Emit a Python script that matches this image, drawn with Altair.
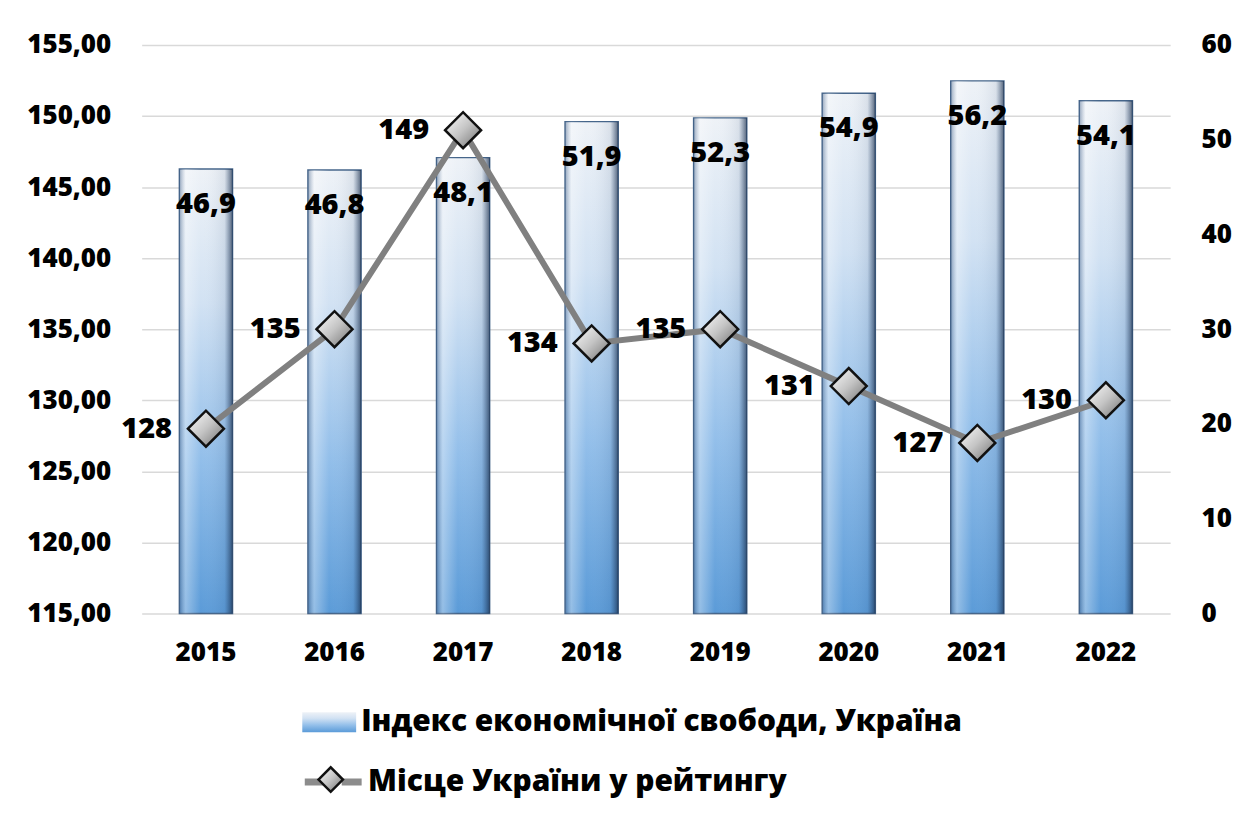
import altair as alt
import pandas as pd

years = ["2015", "2016", "2017", "2018", "2019", "2020", "2021", "2022"]
index_values = [46.9, 46.8, 48.1, 51.9, 52.3, 54.9, 56.2, 54.1]
rank_values = [128, 135, 149, 134, 135, 131, 127, 130]
left_ticks = [115, 120, 125, 130, 135, 140, 145, 150, 155]
right_ticks = [0, 10, 20, 30, 40, 50, 60]
bar_name = "Індекс економічної свободи, Україна"
line_name = "Місце України у рейтингу"

df = pd.DataFrame({
    "year": years,
    "idx": index_values,
    "rank": rank_values,
    "s_bar": bar_name,
    "s_line": line_name,
})

FONT = "'Open Sans', 'Noto Sans', 'DejaVu Sans', sans-serif"
FW = 800
AXFS = 26
LBFS = 29
LGFS = 30

bar_grad = alt.LinearGradient(
    gradient="linear", x1=0, x2=0, y1=0, y2=1,
    stops=[
        alt.GradientStop(color="#eef2f7", offset=0),
        alt.GradientStop(color="#d2e2f3", offset=0.3),
        alt.GradientStop(color="#93bfea", offset=0.65),
        alt.GradientStop(color="#5b9bd8", offset=1),
    ],
)
bar_shade = alt.LinearGradient(
    gradient="linear", x1=0, x2=1, y1=0, y2=0,
    stops=[
        alt.GradientStop(color="rgba(60,90,130,0.5)", offset=0),
        alt.GradientStop(color="rgba(255,255,255,0.35)", offset=0.12),
        alt.GradientStop(color="rgba(255,255,255,0)", offset=0.4),
        alt.GradientStop(color="rgba(40,70,110,0.1)", offset=0.85),
        alt.GradientStop(color="rgba(20,40,70,0.7)", offset=1),
    ],
)
pt_grad = alt.LinearGradient(
    gradient="linear", x1=0, x2=1, y1=0, y2=1,
    stops=[
        alt.GradientStop(color="#ffffff", offset=0),
        alt.GradientStop(color="#c4c4c4", offset=0.5),
        alt.GradientStop(color="#6e6e6e", offset=1),
    ],
)

x_enc = alt.X(
    "year:N",
    scale=alt.Scale(paddingInner=0.586, paddingOuter=0.293),
    axis=alt.Axis(title=None, labelAngle=0, domain=False, ticks=False,
                  labelPadding=26, labelFontSize=26, labelFontWeight=FW,
                  labelColor="black", labelFont=FONT, grid=False),
)

y_idx = alt.Y(
    "idx:Q",
    scale=alt.Scale(domain=[0, 60], nice=False, zero=True),
    axis=alt.Axis(title=None, orient="right", values=right_ticks, grid=False,
                  domain=False, ticks=False, labelPadding=31, labelFontSize=AXFS,
                  labelFontWeight=FW, labelColor="black", labelFont=FONT),
)

y_rank = alt.Y(
    "rank:Q",
    scale=alt.Scale(domain=[115, 155], nice=False, zero=False),
    axis=alt.Axis(title=None, orient="left", values=left_ticks, grid=True,
                  gridColor="#d9d9d9", gridWidth=1.5, domain=False, ticks=False,
                  labelPadding=31, labelFontSize=AXFS, labelFontWeight=FW,
                  labelColor="black", labelFont=FONT,
                  labelExpr="replace(format(datum.value, '.2f'), '.', ',')"),
)

base = alt.Chart(df)

bars = base.mark_bar(fill=bar_grad, stroke="#45658a", strokeWidth=1.4).encode(
    x=x_enc,
    y=y_idx,
    opacity=alt.Opacity(
        "s_bar:N",
        scale=alt.Scale(range=[1]),
        legend=alt.Legend(
            title=None, orient="none", legendX=160, legendY=651,
            symbolType="M-1,-0.37H1V0.37H-1Z", symbolSize=2916,
            symbolStrokeColor="#45658a", symbolStrokeWidth=1.4,
            symbolOpacity=1, labelOffset=4,
            labelFontSize=LGFS, labelFontWeight=FW, labelColor="black",
            labelFont=FONT, labelLimit=900,
        ),
    ),
)
bar_overlay = base.mark_bar(fill=bar_shade).encode(x=x_enc, y=y_idx)
bar_text = base.mark_text(
    dy=35, fontSize=LBFS, fontWeight=FW, font=FONT, color="black", baseline="middle"
).transform_calculate(
    lbl="replace(format(datum.idx, '.1f'), '.', ',')"
).encode(x=x_enc, y=y_idx, text="lbl:N")

bar_group = alt.layer(bars, bar_overlay, bar_text)

line = base.mark_line(color="#808080", strokeWidth=6).encode(
    x=x_enc,
    y=y_rank,
    opacity=alt.Opacity(
        "s_line:N",
        scale=alt.Scale(range=[1]),
        legend=alt.Legend(
            title=None, orient="none", legendX=160, legendY=707,
            symbolType="M-1,0H-0.3M0.3,0H1", symbolSize=3249, symbolStrokeWidth=7,
            symbolStrokeColor="#8c8c8c", symbolOpacity=1, labelOffset=3,
            labelFontSize=LGFS, labelFontWeight=FW, labelColor="black",
            labelFont=FONT, labelLimit=900,
        ),
    ),
)
points = base.mark_point(
    size=1300, filled=True, fill=pt_grad, stroke="#111111",
    strokeWidth=2.5, opacity=1,
).encode(
    x=x_enc,
    y=y_rank,
    shape=alt.Shape(
        "s_line:N",
        scale=alt.Scale(range=["diamond"]),
        legend=alt.Legend(
            title=None, orient="none", legendX=176, legendY=723, zindex=5,
            symbolSize=600, symbolStrokeWidth=2.5, symbolOpacity=1,
            symbolFillColor="#d4d4d4",
            labelExpr="''", labelFontSize=10, labelFont=FONT,
        ),
    ),
)
rank_text = base.mark_text(
    align="right", dx=-34, baseline="middle", fontSize=LBFS, fontWeight=FW,
    font=FONT, color="black",
).encode(x=x_enc, y=y_rank, text="rank:Q")

line_group = alt.layer(line, points, rank_text)

chart = alt.layer(bar_group, line_group).resolve_scale(
    y="independent", opacity="independent"
).resolve_legend(
    opacity="independent"
).properties(
    width=1031, height=570,
    padding={"left": 18, "top": 23, "right": 5, "bottom": 5},
    background="white",
).configure_view(stroke=None)

chart.save("out.html", embed_options={"renderer": "svg", "actions": False})
